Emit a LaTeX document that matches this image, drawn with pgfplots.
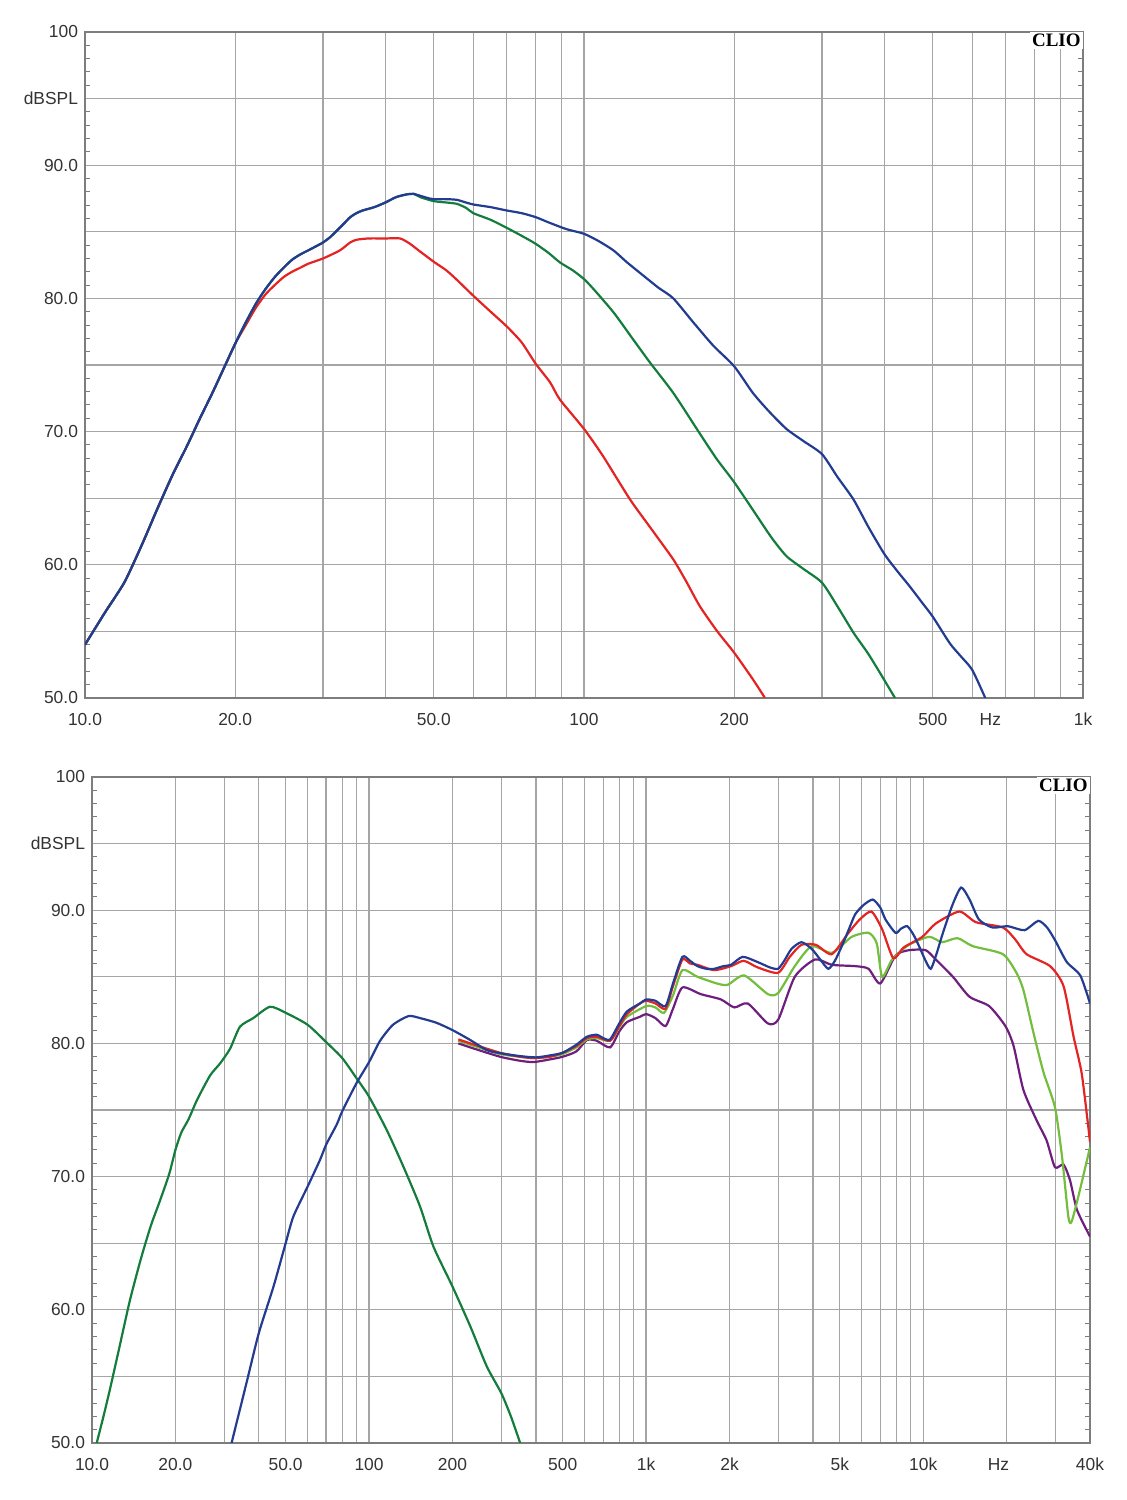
\documentclass[border=0pt]{standalone}
\usepackage{fontspec}
\setmainfont{Liberation Sans}
\newfontfamily\cliofont{Liberation Serif}
\usepackage{pgfplots}
\pgfplotsset{compat=1.18}
\definecolor{gridgray}{RGB}{165,165,165}
\definecolor{framegray}{RGB}{125,125,125}
\definecolor{cblue}{RGB}{35,60,145}
\definecolor{cdgreen}{RGB}{20,125,60}
\definecolor{cred}{RGB}{228,35,35}
\definecolor{clgreen}{RGB}{115,190,60}
\definecolor{cpurple}{RGB}{110,30,125}
\begin{document}
\begin{tikzpicture}
\useasboundingbox (0,0) rectangle (563pt,750pt);
% ---------------- top chart ----------------
\begin{axis}[at={(42.5pt,401pt)}, anchor=south west,
  scale only axis, width=499pt, height=333pt,
  xmode=log, ymin=50, ymax=100,
  xmin=10, xmax=1000,
  grid=both,
  major grid style={gridgray, line width=0.65pt},
  minor grid style={gridgray, line width=0.65pt},
  axis line style={framegray, line width=1pt},
  major tick length=0pt, minor tick length=0pt,
  xtick={10,20,50,100,200,500,1000},
  xticklabels={10.0,20.0,50.0,100,200,500,1k},
  minor xtick={30,40,60,70,80,90,300,400,600,700,800,900},
  ytick={50,60,70,80,90,95,100},
  yticklabels={50.0,60.0,70.0,80.0,90.0,dBSPL,100},
  minor ytick={55,65,75,85},
  extra y ticks={51,52,53,54,56,57,58,59,61,62,63,64,66,67,68,69,71,72,73,74,76,77,78,79,81,82,83,84,86,87,88,89,91,92,93,94,96,97,98,99},
  extra y tick labels={},
  extra y tick style={grid=none, major tick length=2.5pt},
  extra x ticks={652}, extra x tick labels={Hz},
  extra x tick style={grid=none},
  tick label style={font=\fontsize{8.7}{10}\selectfont, text=black!80},
  xticklabel style={yshift=-4pt},
  tick style={framegray, line width=0.5pt}]
\addplot[cred, line width=1.1pt, smooth, tension=0.4] coordinates {
(10,54.0)(11,56.5)(12,58.7)(13,61.5)(14,64.3)(15,66.8)(16,68.9)(17,71.0)(18,72.9)(19,74.8)(20,76.6)
(21,78.0)(22,79.3)(23,80.3)(24,81.0)(25,81.6)(26,82.0)(27,82.3)(28,82.6)(30,83.0)(32.4,83.6)(34,84.2)
(35,84.4)(37,84.5)(40,84.5)(42.8,84.5)(44.8,84.1)(47,83.5)(50,82.75)(53,82.1)(55.6,81.4)(60,80.2)
(65,79.0)(70,77.9)(75,76.7)(80,75.1)(85.5,73.7)(89.5,72.4)(100,70.2)(109,68.2)(123.7,64.9)(137,62.6)
(151,60.4)(160,58.8)(170.6,56.9)(185,55.0)(200,53.4)(218,51.4)(230.5,50.0)};
\addplot[cdgreen, line width=1.1pt, smooth, tension=0.4] coordinates {
(10,54.0)(11,56.5)(12,58.7)(13,61.5)(14,64.3)(15,66.8)(16,68.9)(17,71.0)(18,72.9)(19,74.8)(20,76.6)
(21,78.2)(22,79.6)(23,80.7)(24,81.6)(25,82.3)(26,82.9)(27,83.3)(28,83.6)(29,83.9)(30,84.2)(31,84.6)
(32,85.1)(33,85.6)(34,86.1)(35,86.4)(36,86.6)(38,86.85)(40,87.2)(42,87.6)(44,87.8)(45.5,87.85)
(47,87.6)(50,87.3)(53,87.2)(55.6,87.1)(58,86.8)(60,86.4)(65,85.9)(70,85.3)(75,84.7)(80,84.1)(85,83.4)
(89.5,82.7)(95,82.1)(100,81.45)(104.5,80.7)(114.6,78.95)(125,77.0)(135.5,75.2)(151,72.9)(168.3,70.2)
(184,68.0)(200,66.2)(221.8,63.7)(238,62.0)(254.5,60.65)(275,59.7)(300,58.65)(323,56.8)(346.8,54.9)
(370,53.4)(391.7,51.9)(420,50.0)};
\addplot[cblue, line width=1.1pt, smooth, tension=0.4] coordinates {
(10,54.0)(11,56.5)(12,58.7)(13,61.5)(14,64.3)(15,66.8)(16,68.9)(17,71.0)(18,72.9)(19,74.8)(20,76.6)
(21,78.2)(22,79.6)(23,80.7)(24,81.6)(25,82.3)(26,82.9)(27,83.3)(28,83.6)(29,83.9)(30,84.2)(31,84.6)
(32,85.1)(33,85.6)(34,86.1)(35,86.4)(36,86.6)(38,86.85)(40,87.2)(42,87.6)(44,87.8)(45.5,87.85)
(47,87.7)(49,87.5)(50,87.45)(53,87.45)(55.6,87.4)(58,87.2)(60,87.05)(65,86.85)(70,86.6)(75,86.4)
(80,86.1)(85,85.7)(92.2,85.2)(100,84.85)(107,84.3)(114.6,83.6)(122,82.7)(131.6,81.7)(141,80.8)(151,80.0)
(165.6,78.2)(181.6,76.45)(200,74.9)(218,72.9)(235,71.5)(254.5,70.2)(275,69.3)(300,68.3)(322,66.6)
(346.8,64.9)(372,62.8)(400,60.8)(425,59.5)(449,58.4)(475,57.2)(500,56.1)(541,54.1)(570,53.1)(600,52.1)
(637,50.0)};
\node[anchor=north east, fill=white, inner sep=1pt, font=\cliofont\bfseries\fontsize{9.5}{11}\selectfont]
  at (rel axis cs:1,1) {CLIO};
\end{axis}
% ---------------- bottom chart ----------------
\begin{axis}[at={(46pt,28.5pt)}, anchor=south west,
  scale only axis, width=499pt, height=333pt,
  xmode=log, ymin=50, ymax=100,
  xmin=10, xmax=40000,
  grid=both,
  major grid style={gridgray, line width=0.65pt},
  minor grid style={gridgray, line width=0.65pt},
  axis line style={framegray, line width=1pt},
  major tick length=0pt, minor tick length=0pt,
  xtick={10,20,50,100,200,500,1000,2000,5000,10000,40000},
  xticklabels={10.0,20.0,50.0,100,200,500,1k,2k,5k,10k,40k},
  minor xtick={30,40,60,70,80,90,300,400,600,700,800,900,3000,4000,6000,7000,8000,9000,20000,30000},
  ytick={50,60,70,80,90,95,100},
  yticklabels={50.0,60.0,70.0,80.0,90.0,dBSPL,100},
  minor ytick={55,65,75,85},
  extra y ticks={51,52,53,54,56,57,58,59,61,62,63,64,66,67,68,69,71,72,73,74,76,77,78,79,81,82,83,84,86,87,88,89,91,92,93,94,96,97,98,99},
  extra y tick labels={},
  extra y tick style={grid=none, major tick length=2.5pt},
  extra x ticks={18700}, extra x tick labels={Hz},
  extra x tick style={grid=none},
  tick label style={font=\fontsize{8.7}{10}\selectfont, text=black!80},
  xticklabel style={yshift=-4pt},
  tick style={framegray, line width=0.5pt}]
\addplot[cdgreen, line width=1.1pt, smooth, tension=0.4] coordinates {
(10.4,50.0)(11,52.0)(11.6,54.0)(12.5,57.0)(13.7,60.7)(15,63.8)(16.3,66.3)(17.6,68.2)(19,70.2)(20,72.0)
(21,73.3)(22.3,74.3)(24,75.8)(26.7,77.6)(29,78.5)(31.5,79.6)(34.2,81.25)(38.2,81.9)(43.9,82.75)(50,82.3)
(60,81.4)(70,80.1)(80,78.9)(90,77.4)(100,76.0)(115.8,73.5)(133,70.75)(152.8,67.75)(170.7,64.75)
(200,61.75)(232,58.75)(266,55.75)(300,53.75)(325,52.0)(351,50.0)};
\addplot[cpurple, line width=1.1pt, smooth, tension=0.4] coordinates {
(210,80.0)(240,79.6)(297,79.0)(350,78.7)(392,78.6)(450,78.8)(500,79.0)(560,79.4)(611,80.25)(663,80.2)
(741,79.7)(800,80.9)(853,81.6)(950,82.0)(1000,82.2)(1080,81.9)(1175,81.3)(1250,82.6)(1352,84.2)(1574,83.7)
(1862,83.3)(2081,82.7)(2327,83.0)(2750,81.5)(3000,81.8)(3440,85.0)(4070,86.3)(4680,85.9)(5690,85.8)
(6350,85.6)(7000,84.5)(7950,86.6)(8900,87.0)(10200,87.0)(11100,86.3)(12800,85.0)(14700,83.5)(17300,82.8)
(19800,81.3)(21200,79.8)(23000,76.5)(25700,74.2)(27900,72.7)(29900,70.7)(32100,70.9)(33900,69.7)
(35900,67.5)(40000,65.5)};
\addplot[clgreen, line width=1.1pt, smooth, tension=0.4] coordinates {
(210,80.2)(240,79.8)(297,79.2)(350,79.0)(392,78.9)(450,79.0)(500,79.2)(560,79.7)(611,80.3)(663,80.4)
(741,80.2)(800,81.2)(853,82.0)(1000,82.8)(1080,82.7)(1160,82.3)(1250,83.6)(1352,85.5)(1532,85.0)(1800,84.5)
(1970,84.4)(2260,85.1)(2750,83.7)(3000,83.8)(3440,85.8)(3960,87.3)(4680,86.8)(5520,88.0)(6350,88.3)
(6800,87.5)(7110,85.0)(7730,86.3)(8870,87.4)(10500,88.0)(11700,87.6)(13300,87.9)(15100,87.3)(19400,86.7)
(21700,85.3)(23000,84.0)(25000,80.8)(27200,77.8)(29900,75.2)(31700,71.5)(33400,67.0)(34300,66.6)
(36300,68.5)(40000,72.2)};
\addplot[cred, line width=1.1pt, smooth, tension=0.4] coordinates {
(210,80.3)(240,79.9)(297,79.3)(350,79.0)(392,78.9)(450,79.0)(500,79.3)(560,79.8)(611,80.4)(663,80.5)
(741,80.2)(800,81.3)(853,82.2)(950,83.0)(1000,83.2)(1080,83.0)(1175,82.6)(1250,84.3)(1352,86.3)(1440,86.0)
(1532,85.9)(1761,85.5)(2025,85.8)(2250,86.2)(2530,85.7)(2993,85.3)(3300,86.5)(3636,87.4)(4100,87.4)
(4677,86.7)(5375,88.3)(5900,89.3)(6500,89.9)(7100,88.6)(7800,86.4)(8500,87.2)(9930,88.0)(11100,89.0)
(13500,89.9)(15500,89.1)(19400,88.7)(21500,87.8)(23600,86.7)(28700,85.8)(32100,84.3)(34900,80.5)
(37300,77.8)(39300,74.0)(40000,72.6)};
\addplot[cblue, line width=1.1pt, smooth, tension=0.4] coordinates {
(31.9,50.0)(36.1,54.5)(40,58.25)(45.2,61.75)(50,65.0)(53.3,67.0)(60,69.25)(66.5,71.25)(70,72.4)
(76.4,73.9)(80,74.9)(90,77.0)(100,78.6)(109.6,80.2)(122,81.4)(138.8,82.05)(152.8,81.9)(175,81.55)
(200,81.0)(232,80.25)(266,79.5)(300,79.25)(350,79.05)(400,78.95)
(450,79.1)(500,79.3)(560,79.9)(611,80.5)(663,80.65)(700,80.4)(741,80.3)(800,81.5)(853,82.4)(950,83.0)
(1000,83.3)(1080,83.2)(1175,82.8)(1250,84.5)(1352,86.5)(1440,86.2)(1532,85.8)(1650,85.6)(1761,85.6)
(1900,85.8)(2025,85.9)(2232,86.5)(2530,86.1)(2800,85.7)(2993,85.6)(3150,86.2)(3348,87.1)(3636,87.6)
(3958,87.1)(4250,86.3)(4545,85.6)(4800,86.2)(5084,87.3)(5400,88.6)(5685,89.7)(6100,90.4)(6578,90.8)
(7000,90.2)(7312,89.3)(7946,88.3)(8300,88.6)(8758,88.8)(9200,88.2)(9663,87.3)(10150,86.3)(10650,85.6)
(11200,86.8)(11700,88.1)(12700,90.3)(13700,91.7)(14700,90.8)(15900,89.3)(17800,88.7)(20200,88.8)
(23200,88.5)(26000,89.2)(28000,88.7)(30000,87.7)(33000,86.1)(36900,85.1)(40000,83.0)};
\node[anchor=north east, fill=white, inner sep=1pt, font=\cliofont\bfseries\fontsize{9.5}{11}\selectfont]
  at (rel axis cs:1,1) {CLIO};
\end{axis}
\end{tikzpicture}
\end{document}
